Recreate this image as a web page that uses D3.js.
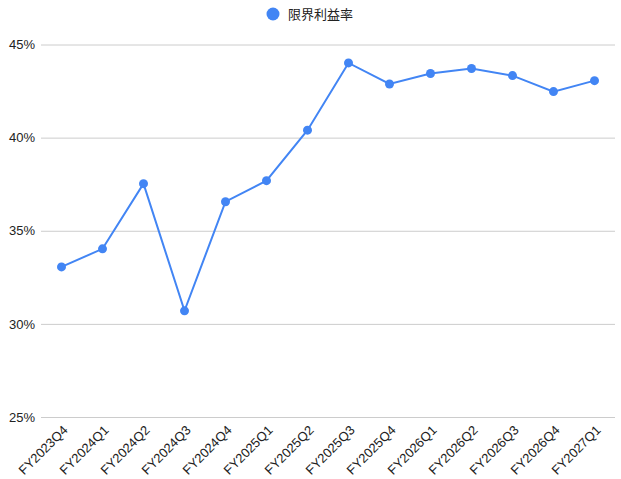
<!DOCTYPE html>
<html>
<head>
<meta charset="utf-8">
<script src="https://cdn.jsdelivr.net/npm/d3@7"></script>
<style>
  body { margin: 0; background: #fff; }
  text { font-family: "Liberation Sans", Arial, sans-serif; }
</style>
</head>
<body>
<div id="chart"></div>
<script>
// Define SVG area size
var svgWidth = 621;
var svgHeight = 479;

// Define margins of the plot area
var margin = { top: 44.5, right: 6, bottom: 62, left: 41 };

var width = svgWidth - margin.left - margin.right;
var height = svgHeight - margin.top - margin.bottom;

// Chart data
var seriesName = "限界利益率";
var quarters = ["FY2023Q4", "FY2024Q1", "FY2024Q2", "FY2024Q3", "FY2024Q4", "FY2025Q1", "FY2025Q2",
  "FY2025Q3", "FY2025Q4", "FY2026Q1", "FY2026Q2", "FY2026Q3", "FY2026Q4", "FY2027Q1"];
var marginRates = [33.06, 34.03, 37.53, 30.70, 36.56, 37.69, 40.40, 44.01, 42.88, 43.44, 43.71, 43.33, 42.47, 43.06];
var yTicks = [25, 30, 35, 40, 45];

var lineColor = "#4285f4";

var svg = d3.select("#chart")
  .append("svg")
  .attr("width", svgWidth)
  .attr("height", svgHeight);

var chartGroup = svg.append("g")
  .attr("transform", `translate(${margin.left}, ${margin.top})`);

// scales
var xScale = d3.scaleBand()
  .domain(quarters)
  .range([0, width]);

var yScale = d3.scaleLinear()
  .domain([25, 45])
  .range([height, 0]);

// gridlines + y labels
var yAxis = d3.axisLeft(yScale)
  .tickValues(yTicks)
  .tickSize(-width)
  .tickPadding(6)
  .tickFormat(d => d + "%");

var yAxisGroup = chartGroup.append("g").call(yAxis);
yAxisGroup.select(".domain").remove();
yAxisGroup.selectAll(".tick line").attr("stroke", "#cccccc").attr("stroke-width", 1);
yAxisGroup.selectAll(".tick text")
  .attr("fill", "#222")
  .attr("font-size", 13);

// x labels
var xAxis = d3.axisBottom(xScale).tickSize(0).tickPadding(0);
var xAxisGroup = chartGroup.append("g")
  .attr("transform", `translate(0, ${height})`)
  .call(xAxis);
xAxisGroup.select(".domain").remove();
xAxisGroup.selectAll(".tick text")
  .attr("fill", "#222")
  .attr("font-size", 13)
  .attr("text-anchor", "end")
  .attr("dy", 0)
  .attr("transform", "translate(7, 14) rotate(-45)");

// line
var cx = d => xScale(d) + xScale.bandwidth() / 2;
var line = d3.line()
  .x((d, i) => cx(quarters[i]))
  .y(d => yScale(d));

chartGroup.append("path")
  .datum(marginRates)
  .attr("fill", "none")
  .attr("stroke", lineColor)
  .attr("stroke-width", 2)
  .attr("d", line);

chartGroup.selectAll("circle")
  .data(marginRates)
  .enter()
  .append("circle")
  .attr("cx", (d, i) => cx(quarters[i]))
  .attr("cy", d => yScale(d))
  .attr("r", 4.5)
  .attr("fill", lineColor);

// legend
var legend = svg.append("g").attr("transform", "translate(273, 14)");
legend.append("circle").attr("r", 6.5).attr("fill", lineColor);
legend.append("text")
  .attr("x", 15)
  .attr("y", 5)
  .attr("font-size", 13)
  .attr("fill", "#222")
  .style("font-family", "'Noto Sans CJK JP', sans-serif")
  .text(seriesName);
</script>
</body>
</html>
